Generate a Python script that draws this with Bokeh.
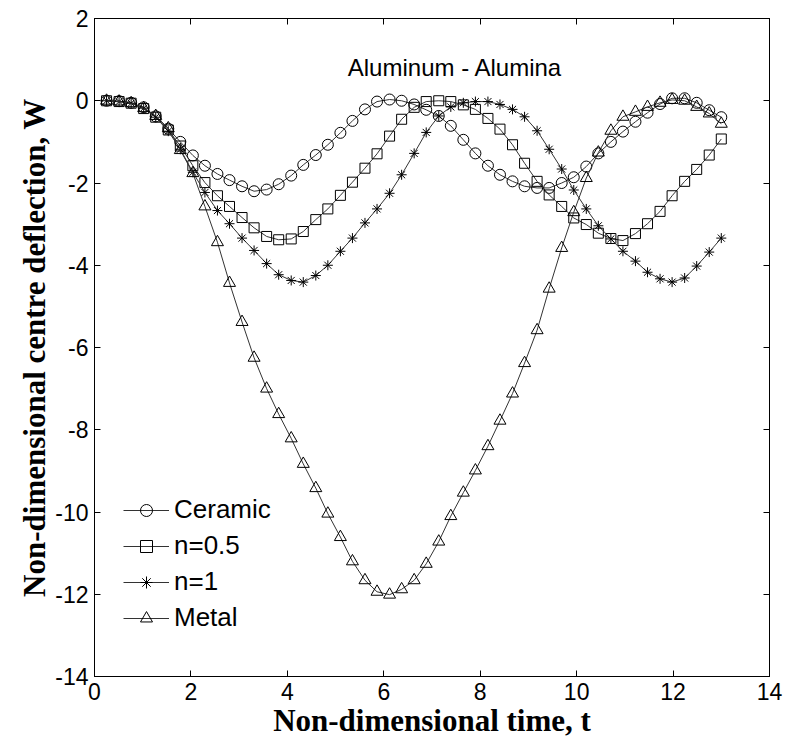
from bokeh.plotting import figure
from bokeh.models import FixedTicker, LinearAxis, Legend, LegendItem, Label, Range1d
from bokeh.embed import file_html
from bokeh.resources import INLINE

# ---- data ----
t = [0.25, 0.51, 0.76, 1.02, 1.27, 1.53, 1.78, 2.04, 2.29, 2.55,
     2.80, 3.06, 3.31, 3.57, 3.82, 4.08, 4.33, 4.59, 4.84, 5.10,
     5.35, 5.61, 5.86, 6.12, 6.37, 6.63, 6.88, 7.14, 7.39, 7.65,
     7.90, 8.16, 8.41, 8.67, 8.92, 9.18, 9.43, 9.69, 9.94, 10.20,
     10.45, 10.71, 10.96, 11.22, 11.47, 11.73, 11.98, 12.24, 12.49, 12.75,
     13.00]

ceramic = [0.0, -0.01, -0.05, -0.16, -0.38, -0.68, -1.0, -1.33, -1.58, -1.78,
           -1.93, -2.08, -2.2, -2.16, -2.03, -1.82, -1.56, -1.32, -1.07, -0.78,
           -0.49, -0.21, -0.02, 0.03, 0.0, -0.09, -0.22, -0.37, -0.61, -0.95,
           -1.28, -1.58, -1.80, -1.96, -2.08, -2.12, -2.12, -2.0, -1.86, -1.6,
           -1.28, -1.0, -0.75, -0.51, -0.29, -0.08, 0.06, 0.06, -0.05, -0.23,
           -0.4]

n_05 = [0.0, -0.02, -0.06, -0.19, -0.4, -0.71, -1.1, -1.58, -1.99, -2.31,
        -2.57, -2.84, -3.09, -3.3, -3.38, -3.36, -3.18, -2.89, -2.63, -2.3,
        -1.98, -1.64, -1.29, -0.86, -0.45, -0.16, -0.02, 0.0, -0.02, -0.1,
        -0.21, -0.43, -0.69, -1.07, -1.52, -1.96, -2.29, -2.57, -2.85, -3.01,
        -3.22, -3.35, -3.4, -3.23, -2.99, -2.69, -2.31, -1.96, -1.67, -1.32,
        -0.93]

n_1 = [0.0, -0.02, -0.06, -0.18, -0.4, -0.74, -1.18, -1.74, -2.23, -2.67,
       -2.99, -3.34, -3.64, -3.96, -4.23, -4.37, -4.41, -4.25, -4.0, -3.66,
       -3.34, -2.97, -2.63, -2.25, -1.8, -1.28, -0.77, -0.37, -0.15, -0.05,
       -0.02, -0.02, -0.09, -0.21, -0.39, -0.73, -1.18, -1.66, -2.17, -2.63,
       -3.04, -3.36, -3.66, -3.9, -4.17, -4.33, -4.41, -4.31, -4.02, -3.68,
       -3.34]

metal = [0.0, -0.02, -0.06, -0.18, -0.37, -0.67, -1.2, -1.76, -2.57, -3.44,
         -4.43, -5.38, -6.25, -7.0, -7.62, -8.21, -8.83, -9.42, -10.04, -10.61,
         -11.2, -11.66, -11.94, -12.01, -11.88, -11.66, -11.26, -10.72, -10.1, -9.53,
         -8.99, -8.4, -7.78, -7.12, -6.38, -5.58, -4.57, -3.58, -2.71, -1.88,
         -1.26, -0.73, -0.39, -0.27, -0.15, -0.05, 0.02, 0.0, -0.15, -0.31,
         -0.56]

series_names = ["Ceramic", "n=0.5", "n=1", "Metal"]
x_ticks = [0, 2, 4, 6, 8, 10, 12, 14]
x_tick_labels = ["0", "2", "4", "6", "8", "10", "12", "14"]
y_ticks = [-14, -12, -10, -8, -6, -4, -2, 0, 2]
y_tick_labels = ["-14", "-12", "-10", "-8", "-6", "-4", "-2", "0", "2"]
title_text = "Aluminum - Alumina"
x_label = "Non-dimensional time, t"
y_label = "Non-dimensional centre deflection, W"

# ---- figure ----
p = figure(width=786, height=742, output_backend="svg", toolbar_location=None,
           x_range=Range1d(0, 14), y_range=Range1d(-14, 2),
           min_border_left=94, min_border_right=17, min_border_top=18,
           min_border_bottom=66)
p.background_fill_color = "white"
p.border_fill_color = "white"
p.outline_line_color = "black"
p.outline_line_width = 1
p.xgrid.visible = False
p.ygrid.visible = False

TICK_FONT = "Liberation Sans"
LABEL_FONT = "Liberation Serif"


def style_axis(ax, ticks, labels, show_labels=True):
    ax.ticker = FixedTicker(ticks=ticks)
    ax.major_tick_in = 6
    ax.major_tick_out = 0
    ax.minor_tick_in = 0
    ax.minor_tick_out = 0
    ax.axis_line_color = "black"
    ax.major_tick_line_color = "black"
    if show_labels:
        ax.major_label_overrides = {tk: lb for tk, lb in zip(ticks, labels)}
        ax.major_label_text_font = TICK_FONT
        ax.major_label_text_font_size = "23px"
        ax.major_label_text_color = "black"
    else:
        ax.major_label_overrides = {tk: "" for tk in ticks}
        ax.major_label_text_font_size = "0px"
        ax.major_label_standoff = 0


style_axis(p.xaxis[0], x_ticks, x_tick_labels)
style_axis(p.yaxis[0], y_ticks, y_tick_labels)
p.xaxis[0].major_label_standoff = 6
p.yaxis[0].major_label_standoff = 6

p.xaxis[0].axis_label = x_label
p.yaxis[0].axis_label = y_label
for ax in (p.xaxis[0], p.yaxis[0]):
    ax.axis_label_text_font = LABEL_FONT
    ax.axis_label_text_font_style = "bold"
    ax.axis_label_text_font_size = "31px"
    ax.axis_label_text_color = "black"
p.xaxis[0].axis_label_standoff = 0
p.yaxis[0].axis_label_standoff = 0

top_ax = LinearAxis()
right_ax = LinearAxis()
style_axis(top_ax, x_ticks, x_tick_labels, show_labels=False)
style_axis(right_ax, y_ticks, y_tick_labels, show_labels=False)
p.add_layout(top_ax, "above")
p.add_layout(right_ax, "right")

markers = ["circle", "square", "asterisk", "triangle"]
sizes = [11, 10, 10, 12]
items = []
for name, ys, mk, sz in zip(series_names, [ceramic, n_05, n_1, metal], markers, sizes):
    r_line = p.line(t, ys, line_color="#333333", line_width=1)
    r_mark = p.scatter(t, ys, marker=mk, size=sz, line_color="black",
                       fill_color=None, line_width=1)
    items.append(LegendItem(label=name, renderers=[r_line, r_mark]))

legend = Legend(items=items, location=(29, 43), padding=0, margin=0,
                spacing=5, glyph_width=46, glyph_height=30, label_height=30,
                label_standoff=5, label_text_font=TICK_FONT,
                label_text_font_size="26px", label_text_color="black",
                border_line_color=None, background_fill_alpha=0)
p.add_layout(legend)

p.add_layout(Label(x=7.48, y=0.8, text=title_text, text_align="center",
                   text_baseline="alphabetic", text_font=TICK_FONT,
                   text_font_size="24px", text_color="black"))

open("out.html", "w").write(file_html(p, INLINE))
